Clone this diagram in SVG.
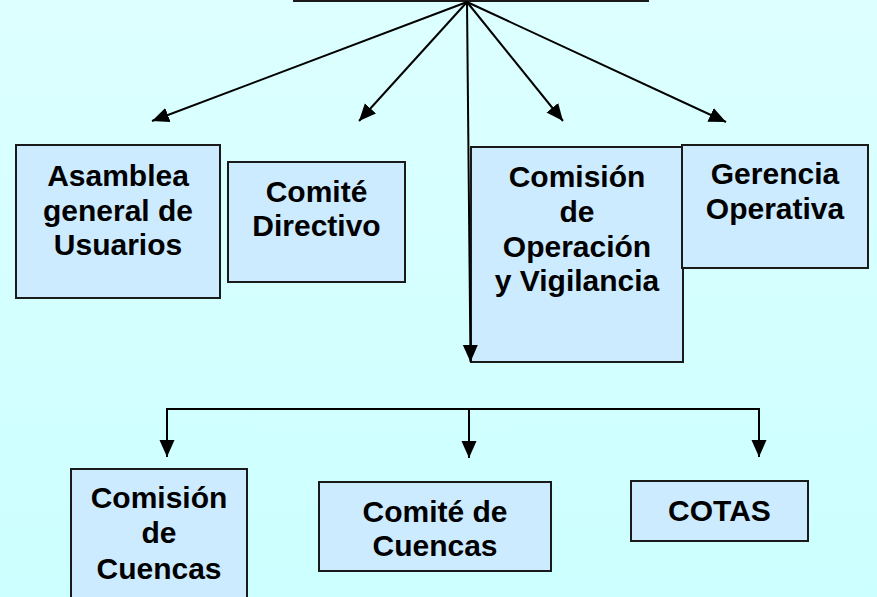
<svg xmlns="http://www.w3.org/2000/svg" width="877" height="597" viewBox="0 0 877 597">
<defs>
<linearGradient id="bg" x1="0" y1="0" x2="0" y2="1">
<stop offset="0" stop-color="#DDFFFF"/>
<stop offset="1" stop-color="#CCFFFF"/>
</linearGradient>
<marker id="ah" markerUnits="userSpaceOnUse" markerWidth="18" markerHeight="16" refX="17" refY="7.5" orient="auto">
<path d="M0,0 L17,7.5 L0,15 z" fill="#000"/>
</marker>
<style>
.box{fill:#CCEBFF;stroke:#1a1a1a;stroke-width:2}
.t{font-family:"Liberation Sans",Arial,sans-serif;font-weight:bold;font-size:30px;fill:#000;text-anchor:middle}
.c{fill:none;stroke:#000;stroke-width:2}
</style>
</defs>
<rect x="0" y="0" width="877" height="597" fill="url(#bg)"/>
<g id="top"><rect class="box" x="294" y="-40" width="354" height="41"/></g>
<g id="asamblea"><rect class="box" x="16" y="145" width="204" height="153"/>
<text class="t" x="118" y="186">Asamblea</text><text class="t" x="118" y="221">general de</text><text class="t" x="118" y="255">Usuarios</text></g>
<g id="directivo"><rect class="box" x="228" y="162" width="177" height="120"/>
<text class="t" x="316.5" y="202">Comité</text><text class="t" x="316.5" y="236">Directivo</text></g>
<g id="comision-ov"><rect class="box" x="471" y="147" width="212" height="215"/>
<text class="t" x="577" y="187">Comisión</text><text class="t" x="577" y="222">de</text><text class="t" x="577" y="257">Operación</text><text class="t" x="577" y="291">y Vigilancia</text></g>
<g id="gerencia"><rect class="box" x="682" y="145" width="186" height="123"/>
<text class="t" x="775" y="184">Gerencia</text><text class="t" x="775" y="219">Operativa</text></g>
<g id="comision-cuencas"><rect class="box" x="71" y="469" width="176" height="140"/>
<text class="t" x="159" y="508">Comisión</text><text class="t" x="159" y="543">de</text><text class="t" x="159" y="579">Cuencas</text></g>
<g id="comite-cuencas"><rect class="box" x="319" y="482" width="232" height="89"/>
<text class="t" x="435" y="522">Comité de</text><text class="t" x="435" y="556">Cuencas</text></g>
<g id="cotas"><rect class="box" x="631" y="481" width="177" height="60"/>
<text class="t" x="719.5" y="521">COTAS</text></g>
<g id="connectors">
<line class="c" x1="467" y1="2" x2="152" y2="121" marker-end="url(#ah)"/>
<line class="c" x1="467" y1="2" x2="359" y2="121" marker-end="url(#ah)"/>
<line class="c" x1="467" y1="2" x2="563" y2="121" marker-end="url(#ah)"/>
<line class="c" x1="467" y1="2" x2="726" y2="122" marker-end="url(#ah)"/>
<line class="c" x1="467" y1="2" x2="470.5" y2="362" marker-end="url(#ah)"/>
<polyline class="c" points="167,409 759,409 759,457" marker-end="url(#ah)"/>
<line class="c" x1="167" y1="408" x2="167" y2="457" marker-end="url(#ah)"/>
<line class="c" x1="469" y1="409" x2="469" y2="458" marker-end="url(#ah)"/>
</g>
</svg>
